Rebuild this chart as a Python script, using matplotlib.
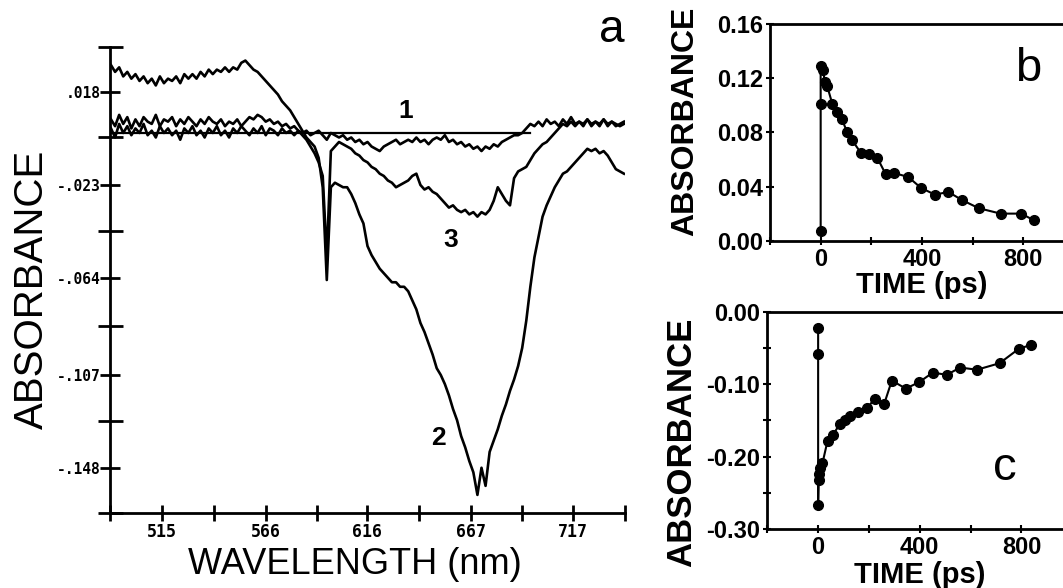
import numpy as np
import matplotlib
matplotlib.use("Agg")
import matplotlib.pyplot as plt
from matplotlib.ticker import FixedLocator, FormatStrFormatter

plt.rcParams['font.family'] = ['Liberation Sans', 'DejaVu Sans']
plt.rcParams['axes.unicode_minus'] = False

# ---- panel a : transient spectra (absorbance x 1000) ----
wl = np.arange(490, 743, 2)

curve1 = [2, -2, 4, 0, 3, -1, 2, 0, 4, -1, 1, -2, 3, 0, 2, -1, 1, -3, 2, 0,
          3, -1, 1, -2, 2, 0, 3, -1, 1, -2, 2, 0, 3, 1, -1, 2, 0, 3, -1, 2,
          1, -1, 2, 0, 1, -1, 1, 0, 1, -1, 0, 1, -1, -3, 0, -1, -2, -1, -3, -2,
          -4, -3, -5, -4, -6, -7, -8, -6, -5, -4, -3, -5, -4, -3, -4, -2, -4, -3, -5, -3,
          -2, -3, -1, -4, -3, -5, -4, -6, -5, -7, -6, -8, -6, -7, -5, -6, -4, -3, -2, -1,
          -1, 0, 2, 4, 3, 5, 3, 6, 4, 5, 3, 6, 4, 7, 4, 5, 3, 6, 4, 5,
          3, 6, 4, 5, 3, 4, 5]

curve2 = [30, 27, 29, 25, 27, 24, 26, 23, 25, 22, 24, 21, 25, 22, 24, 23, 25, 22, 26, 24,
          26, 24, 27, 25, 28, 26, 28, 27, 29, 27, 29, 28, 31, 32, 30, 28, 27, 25, 23, 21,
          19, 17, 14, 12, 10, 7, 4, 1, -2, -4, -6, -11, -24, -65, -24, -22, -23, -24, -24, -27,
          -31, -36, -40, -50, -54, -57, -60, -62, -64, -66, -66, -68, -68, -70, -74,
          -78, -84, -88, -93, -98, -104, -107, -111, -116, -122, -127, -134, -139, -145, -150,
          -160, -148, -156, -141, -136, -131, -125, -120, -114, -109, -103, -95, -83, -68, -55,
          -46, -37, -32, -28, -24, -21, -18, -17, -15, -13, -11, -9, -7, -8, -7,
          -9, -8, -10, -13, -16, -17, -18]

curve3 = [6, 3, 8, 4, 7, 2, 6, 3, 7, 5, 4, 8, 3, 6, 5, 7, 3, 6, 4, 7,
          5, 3, 6, 4, 7, 5, 4, 6, 3, 5, 4, 6, 3, 5, 7, 6, 8, 7, 5, 6,
          4, 5, 3, 4, 2, 3, 1, -1, -3, -6, -9, -13, -19, -55, -8, -6, -4, -5, -6, -7,
          -9, -10, -12, -13, -15, -16, -18, -19, -21, -22, -24, -23, -22, -21, -19,
          -18, -23, -25, -24, -26, -27, -29, -31, -33, -32, -34, -35, -34, -36, -35,
          -37, -35, -36, -34, -30, -24, -27, -30, -32, -20, -17, -16, -15, -12, -9,
          -7, -5, -4, -2, 0, 2, 4, 3, 5, 3, 5, 4, 6, 3, 5,
          4, 6, 3, 5, 4, 3, 4]

base_wl = [490, 696]
base_val = [0, 0]

a_major = [0.018, -0.023, -0.064, -0.107, -0.148]
a_major_lab = ['.018', '-.023', '-.064', '-.107', '-.148']
a_minor = [0.038, -0.002, -0.0435, -0.0855, -0.1275, -0.168]
x_major = [515, 566, 616, 667, 717]
x_minor = [489.5, 540.5, 591, 641.5, 692, 742.5]

# ---- panel b : kinetics at positive band ----
t_b = [0, 0, 0, 10, 16, 26, 46, 66, 83, 105, 125, 158, 191, 224, 257, 290,
       346, 396, 451, 504, 558, 624, 710, 792, 842]
a_b = [0.007, 0.101, 0.129, 0.126, 0.117, 0.114, 0.101, 0.095, 0.090, 0.080,
       0.074, 0.065, 0.064, 0.061, 0.049, 0.050, 0.047, 0.039, 0.034, 0.036,
       0.030, 0.024, 0.020, 0.020, 0.015]

# ---- panel c : kinetics at bleach ----
t_c = [0, 0, 0, 2, 5, 8, 17, 37, 58, 85, 105, 124, 158, 191, 224, 260, 290,
       345, 398, 451, 506, 559, 625, 714, 790, 836]
a_c = [-0.022, -0.059, -0.266, -0.232, -0.224, -0.216, -0.209, -0.178, -0.170,
       -0.155, -0.149, -0.144, -0.138, -0.133, -0.120, -0.127, -0.095, -0.106,
       -0.097, -0.084, -0.087, -0.077, -0.080, -0.071, -0.051, -0.046]

fig = plt.figure(figsize=(10.63, 5.88), dpi=100)

# panel a
ax = fig.add_axes([110/1063, 1-513/588, 515/1063, 466/588])
ax.plot(base_wl, base_val, color='k', lw=1.6)
for c in (curve1, curve3, curve2):
    ax.plot(wl, np.array(c)/1000.0, color='k', lw=1.9)
ax.set_xlim(489.5, 742.5)
ax.set_ylim(-0.168, 0.038)
ax.spines['top'].set_visible(False)
ax.spines['right'].set_visible(False)
for s in ('left', 'bottom'):
    ax.spines[s].set_linewidth(2)
ax.yaxis.set_major_locator(FixedLocator(a_major))
ax.set_yticklabels(a_major_lab)
ax.yaxis.set_minor_locator(FixedLocator(a_minor))
ax.xaxis.set_major_locator(FixedLocator(x_major))
ax.set_xticklabels([str(v) for v in x_major])
ax.xaxis.set_minor_locator(FixedLocator(x_minor))
ax.tick_params(axis='y', which='major', direction='inout', length=14, width=2, pad=0)
ax.tick_params(axis='y', which='minor', direction='inout', length=18, width=2)
ax.tick_params(axis='x', which='both', direction='inout', length=12, width=2, pad=1)
for lab in ax.get_yticklabels():
    lab.set_fontfamily('DejaVu Sans Mono')
    lab.set_fontweight('bold')
    lab.set_fontsize(10.5)
for lab in ax.get_xticklabels():
    lab.set_fontfamily('DejaVu Sans Mono')
    lab.set_fontweight('bold')
    lab.set_fontsize(12)
ax.set_ylabel('ABSORBANCE', fontsize=29)
ax.yaxis.set_label_coords(-0.115, 0.479)
ax.set_xlabel('WAVELENGTH (nm)', fontsize=26)
ax.xaxis.set_label_coords(0.476, -0.072)
ax.text(735.8, 0.0456, 'a', fontsize=33, ha='center', va='center')
ax.text(635, 0.0095, '1', fontsize=19, fontweight='bold', ha='center', va='center')
ax.text(651, -0.135, '2', fontsize=19, fontweight='bold', ha='center', va='center')
ax.text(657, -0.0475, '3', fontsize=19, fontweight='bold', ha='center', va='center')


def kin_axes(rect, t, a, ylim, major, minor, letter, lpos, ylab_y, ylab_size, xlab_pad):
    k = fig.add_axes(rect)
    k.plot(t, a, color='k', lw=1.5, marker='o', ms=7)
    k.set_xlim(-200, 1000)
    k.set_ylim(*ylim)
    for s in k.spines.values():
        s.set_linewidth(2)
    k.xaxis.set_major_locator(FixedLocator([0, 400, 800]))
    k.xaxis.set_minor_locator(FixedLocator([-200, 200, 600, 1000]))
    k.yaxis.set_major_locator(FixedLocator(major))
    k.yaxis.set_minor_locator(FixedLocator(minor))
    k.yaxis.set_major_formatter(FormatStrFormatter('%.2f'))
    k.tick_params(which='both', direction='inout', length=6, width=1.5)
    k.tick_params(axis='x', labelsize=17, pad=2)
    k.tick_params(axis='y', labelsize=17, pad=2)
    for lab in k.get_xticklabels() + k.get_yticklabels():
        lab.set_fontweight('bold')
    k.set_xlabel('TIME (ps)', fontsize=21, fontweight='bold', labelpad=xlab_pad)
    k.set_ylabel('ABSORBANCE', fontsize=ylab_size, fontweight='bold')
    k.yaxis.set_label_coords(-0.228, ylab_y)
    k.text(lpos[0], lpos[1], letter, fontsize=34, ha='center', va='center')
    return k


kin_axes([770/1063, 1-240.7/588, 304/1063, 216.7/588], t_b, a_b, (0, 0.16),
         [0, 0.04, 0.08, 0.12, 0.16], [], 'b', (820, 0.127), 0.55, 23, 0)
kin_axes([767.3/1063, 1-529.3/588, 305/1063, 217.6/588], t_c, a_c, (-0.30, 0),
         [-0.30, -0.20, -0.10, 0.00], [-0.25, -0.15, -0.05], 'c', (735, -0.216), 0.40, 25, 1)

fig.savefig('out.png', dpi=100)
